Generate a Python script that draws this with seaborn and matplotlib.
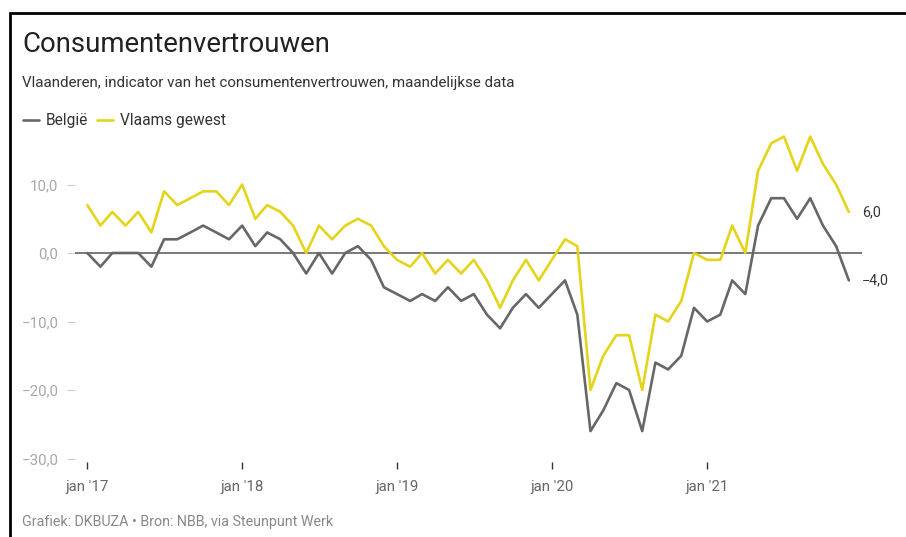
import matplotlib
matplotlib.use('Agg')
import matplotlib.pyplot as plt
from matplotlib.patches import Rectangle
import pandas as pd
import seaborn as sns

# monthly data, jan 2017 - dec 2021
months = pd.date_range('2017-01-01', periods=60, freq='MS')
belgie = [0, -2, 0, 0, 0, -2, 2, 2, 3, 4,
          3, 2, 4, 1, 3, 2, 0, -3, 0, -3,
          0, 1, -1, -5, -6, -7, -6, -7, -5, -7,
          -6, -9, -11, -8, -6, -8, -6, -4, -9, -26,
          -23, -19, -20, -26, -16, -17, -15, -8, -10, -9,
          -4, -6, 4, 8, 8, 5, 8, 4, 1, -4]
vlaams = [7, 4, 6, 4, 6, 3, 9, 7, 8, 9,
          9, 7, 10, 5, 7, 6, 4, 0, 4, 2,
          4, 5, 4, 1, -1, -2, 0, -3, -1, -3,
          -1, -4, -8, -4, -1, -4, -1, 2, 1, -20,
          -15, -12, -12, -20, -9, -10, -7, 0, -1, -1,
          4, 0, 12, 16, 17, 12, 17, 13, 10, 6]
series_names = ['België', 'Vlaams gewest']
series_colors = ['#676767', '#e4d41a']
yticks = [10, 0, -10, -20, -30]
ytick_labels = ['10,0', '0,0', '\u221210,0', '\u221220,0', '\u221230,0']
xtick_years = [2017, 2018, 2019, 2020, 2021]
xtick_labels = ["jan '17", "jan '18", "jan '19", "jan '20", "jan '21"]

df = pd.DataFrame({'maand': list(months) * 2,
                   'waarde': belgie + vlaams,
                   'reeks': [series_names[0]] * 60 + [series_names[1]] * 60})

sns.set_style('white')
plt.rcParams['font.family'] = ['Roboto', 'DejaVu Sans']

W, H = 906, 537
fig = plt.figure(figsize=(W / 100, H / 100), dpi=100)

# axes placement (pixels -> figure fraction)
px_left, px_right = 75, 862
y_top, y_bot = 18, -30.45
px_per_unit = 6.85
px_zero = 253
px_top = px_zero - y_top * px_per_unit
px_bot = px_zero - y_bot * px_per_unit
ax = fig.add_axes([px_left / W, 1 - px_bot / H, (px_right - px_left) / W, (px_bot - px_top) / H])

sns.lineplot(data=df, x='maand', y='waarde', hue='reeks', palette=series_colors,
             linewidth=1.9, ax=ax)

ax.axhline(0, color='#555555', lw=1.1, zorder=1)
ax.set_xlim(pd.Timestamp('2016-12-03'), pd.Timestamp('2022-01-01'))
ax.set_ylim(y_bot, y_top)
ax.set_xlabel('')
ax.set_ylabel('')
for s in ax.spines.values():
    s.set_visible(False)

ax.set_yticks(yticks)
ax.set_yticklabels(ytick_labels)
ax.tick_params(axis='y', length=6, color='#cccccc', labelcolor='#a8a8a8',
               labelsize=10.8, pad=6, left=True)
ax.set_xticks([pd.Timestamp(f'{y}-01-01') for y in xtick_years])
ax.set_xticklabels(xtick_labels)
ax.tick_params(axis='x', length=5, width=1, color='#333333', labelcolor='#666666',
               labelsize=10.8, pad=8, bottom=True)

# end labels
ax.text(1.0, vlaams[-1], '6,0', transform=ax.get_yaxis_transform(),
        ha='left', va='center', fontsize=10.3, color='#333333')
ax.text(1.0, belgie[-1], '\u22124,0', transform=ax.get_yaxis_transform(),
        ha='left', va='center', fontsize=10.3, color='#333333')

# legend
sns.move_legend(ax, 'center left', bbox_to_anchor=(23 / W, 1 - 121 / H),
                bbox_transform=fig.transFigure, ncol=2, frameon=False, title=None,
                handlelength=1.0, handletextpad=0.45, columnspacing=0.6,
                borderpad=0, borderaxespad=0, fontsize=11.2)
for t in ax.get_legend().get_texts():
    t.set_color('#333333')

# titles
fig.text(22 / W, 1 - 45 / H, 'Consumentenvertrouwen', fontsize=19.8,
         color='#222222', va='center', ha='left')
fig.text(22 / W, 1 - 83 / H,
         'Vlaanderen, indicator van het consumentenvertrouwen, maandelijkse data',
         fontsize=10.9, color='#333333', va='center', ha='left')
fig.text(22 / W, 1 - 522 / H, 'Grafiek: DKBUZA \u2022 Bron: NBB, via Steunpunt Werk',
         fontsize=10.3, color='#888888', va='center', ha='left')

# outer frame
fig.patches.append(Rectangle((10 / W, -0.1), 1.2, 1.1 - 13 / H, transform=fig.transFigure,
                             fill=False, ec='black', lw=2, figure=fig))

fig.savefig('out.png', dpi=100)
